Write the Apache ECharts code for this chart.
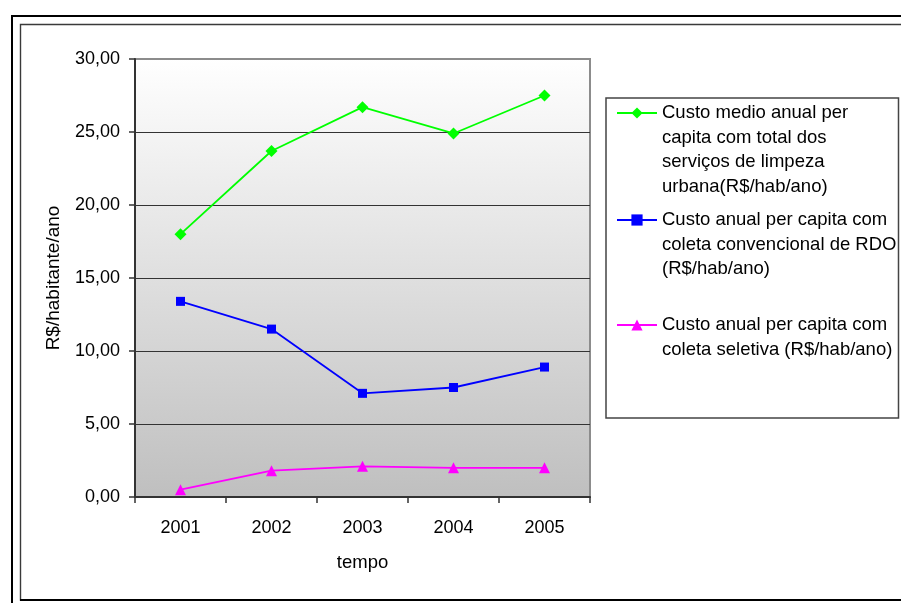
<!DOCTYPE html>
<html>
<head>
<meta charset="utf-8">
<script src="https://cdn.jsdelivr.net/npm/echarts@6/dist/echarts.min.js"></script>
<style>
  html, body { margin: 0; padding: 0; background: #ffffff; }
  #chart { width: 901px; height: 603px; }
</style>
</head>
<body>
<div id="chart"></div>
<script>
// Costs per inhabitant, Brazilian reais per year
const years = ['2001', '2002', '2003', '2004', '2005'];
const custoTotal = [18.0, 23.7, 26.7, 24.9, 27.5];
const custoColetaRDO = [13.4, 11.5, 7.1, 7.5, 8.9];
const custoSeletiva = [0.5, 1.8, 2.1, 2.0, 2.0];

const nameTotal = 'Custo medio anual per capita com total dos serviços de limpeza urbana(R$/hab/ano)';
const nameRDO = 'Custo anual per capita com coleta convencional de RDO (R$/hab/ano)';
const nameSeletiva = 'Custo anual per capita com coleta seletiva (R$/hab/ano)';

// Legend text broken into lines as it is printed
const legendLines = {};
legendLines[nameTotal] = ['Custo medio anual per', 'capita com total dos', 'serviços de limpeza', 'urbana(R$/hab/ano)'];
legendLines[nameRDO] = ['Custo anual per capita com', 'coleta convencional de RDO', '(R$/hab/ano)'];
legendLines[nameSeletiva] = ['Custo anual per capita com', 'coleta seletiva (R$/hab/ano)'];

const FONT = '"Liberation Sans", Arial, sans-serif';
const LINE_H = 24.5;

// Pad each legend label with blank lines above so the icon sits beside the first line
function legendText(name) {
  const lines = legendLines[name];
  const pad = new Array(lines.length - 1).fill('');
  return pad.concat(lines).join('\n');
}
function legendTop(name, firstLineY) {
  const n = legendLines[name].length * 2 - 1;
  return firstLineY - (n * LINE_H) / 2;
}

function makeLegend(name, firstLineY) {
  return {
    data: [name],
    left: 616,
    top: legendTop(name, firstLineY),
    padding: 0,
    itemWidth: 40,
    itemHeight: 14,
    selectedMode: false,
    formatter: legendText,
    textStyle: { fontFamily: FONT, fontSize: 18.5, color: '#000', lineHeight: LINE_H }
  };
}

const chart = echarts.init(document.getElementById('chart'), null, { renderer: 'canvas' });

chart.setOption({
  animation: false,
  backgroundColor: '#ffffff',
  graphic: [
    { type: 'rect', silent: true, z: -10,
      shape: { x: 12, y: 16, width: 1000, height: 1000 },
      style: { fill: 'none', stroke: '#000', lineWidth: 2 } },
    { type: 'rect', silent: true, z: -10,
      shape: { x: 20.5, y: 24.5, width: 1000, height: 575.5 },
      style: { fill: 'none', stroke: '#3a3a3a', lineWidth: 1.4 } },
    { type: 'line', silent: true, z: -9,
      shape: { x1: 20, y1: 600, x2: 901, y2: 600 },
      style: { stroke: '#000', lineWidth: 2 } },
    { type: 'rect', silent: true, z: -5,
      shape: { x: 606, y: 98, width: 292.5, height: 320 },
      style: { fill: '#fff', stroke: '#444', lineWidth: 1.5 } }
  ],
  legend: [
    makeLegend(nameTotal, 113),
    makeLegend(nameRDO, 220),
    makeLegend(nameSeletiva, 325)
  ],
  grid: {
    left: 135, right: 311, top: 59, bottom: 106,
    show: true,
    borderColor: '#8c8c8c',
    borderWidth: 2,
    backgroundColor: new echarts.graphic.LinearGradient(0, 0, 0, 1, [
      { offset: 0, color: '#ffffff' },
      { offset: 1, color: '#bfbfbf' }
    ])
  },
  xAxis: {
    type: 'category',
    data: years,
    boundaryGap: true,
    name: 'tempo',
    nameLocation: 'middle',
    nameGap: 56,
    nameTextStyle: { fontFamily: FONT, fontSize: 18.5, color: '#000' },
    axisLine: { lineStyle: { color: '#333', width: 2 } },
    axisTick: { show: true, length: 6, lineStyle: { color: '#333', width: 1.5 } },
    axisLabel: { fontFamily: FONT, fontSize: 18, color: '#000', margin: 22 }
  },
  yAxis: {
    type: 'value',
    min: 0, max: 30, interval: 5,
    name: 'R$/habitante/ano',
    nameLocation: 'middle',
    nameRotate: 90,
    nameGap: 72,
    nameTextStyle: { fontFamily: FONT, fontSize: 19, color: '#000' },
    axisLine: { show: true, lineStyle: { color: '#333', width: 2 } },
    axisTick: { show: true, length: 6, lineStyle: { color: '#333', width: 1.5 } },
    axisLabel: {
      fontFamily: FONT, fontSize: 18, color: '#000', margin: 15,
      formatter: v => v.toFixed(2).replace('.', ',')
    },
    splitLine: { show: true, showMinLine: false, showMaxLine: false, lineStyle: { color: '#333', width: 1.2 } }
  },
  series: [
    {
      name: nameTotal, type: 'line', data: custoTotal,
      symbol: 'diamond', symbolSize: 12,
      color: '#00ff00',
      lineStyle: { color: '#00ff00', width: 1.8 },
      itemStyle: { color: '#00ff00' }
    },
    {
      name: nameRDO, type: 'line', data: custoColetaRDO,
      symbol: 'rect', symbolSize: 9,
      color: '#0000ff',
      lineStyle: { color: '#0000ff', width: 1.8 },
      itemStyle: { color: '#0000ff' }
    },
    {
      name: nameSeletiva, type: 'line', data: custoSeletiva,
      symbol: 'triangle', symbolSize: 11,
      color: '#ff00ff',
      lineStyle: { color: '#ff00ff', width: 1.8 },
      itemStyle: { color: '#ff00ff' }
    }
  ]
});
</script>
</body>
</html>
